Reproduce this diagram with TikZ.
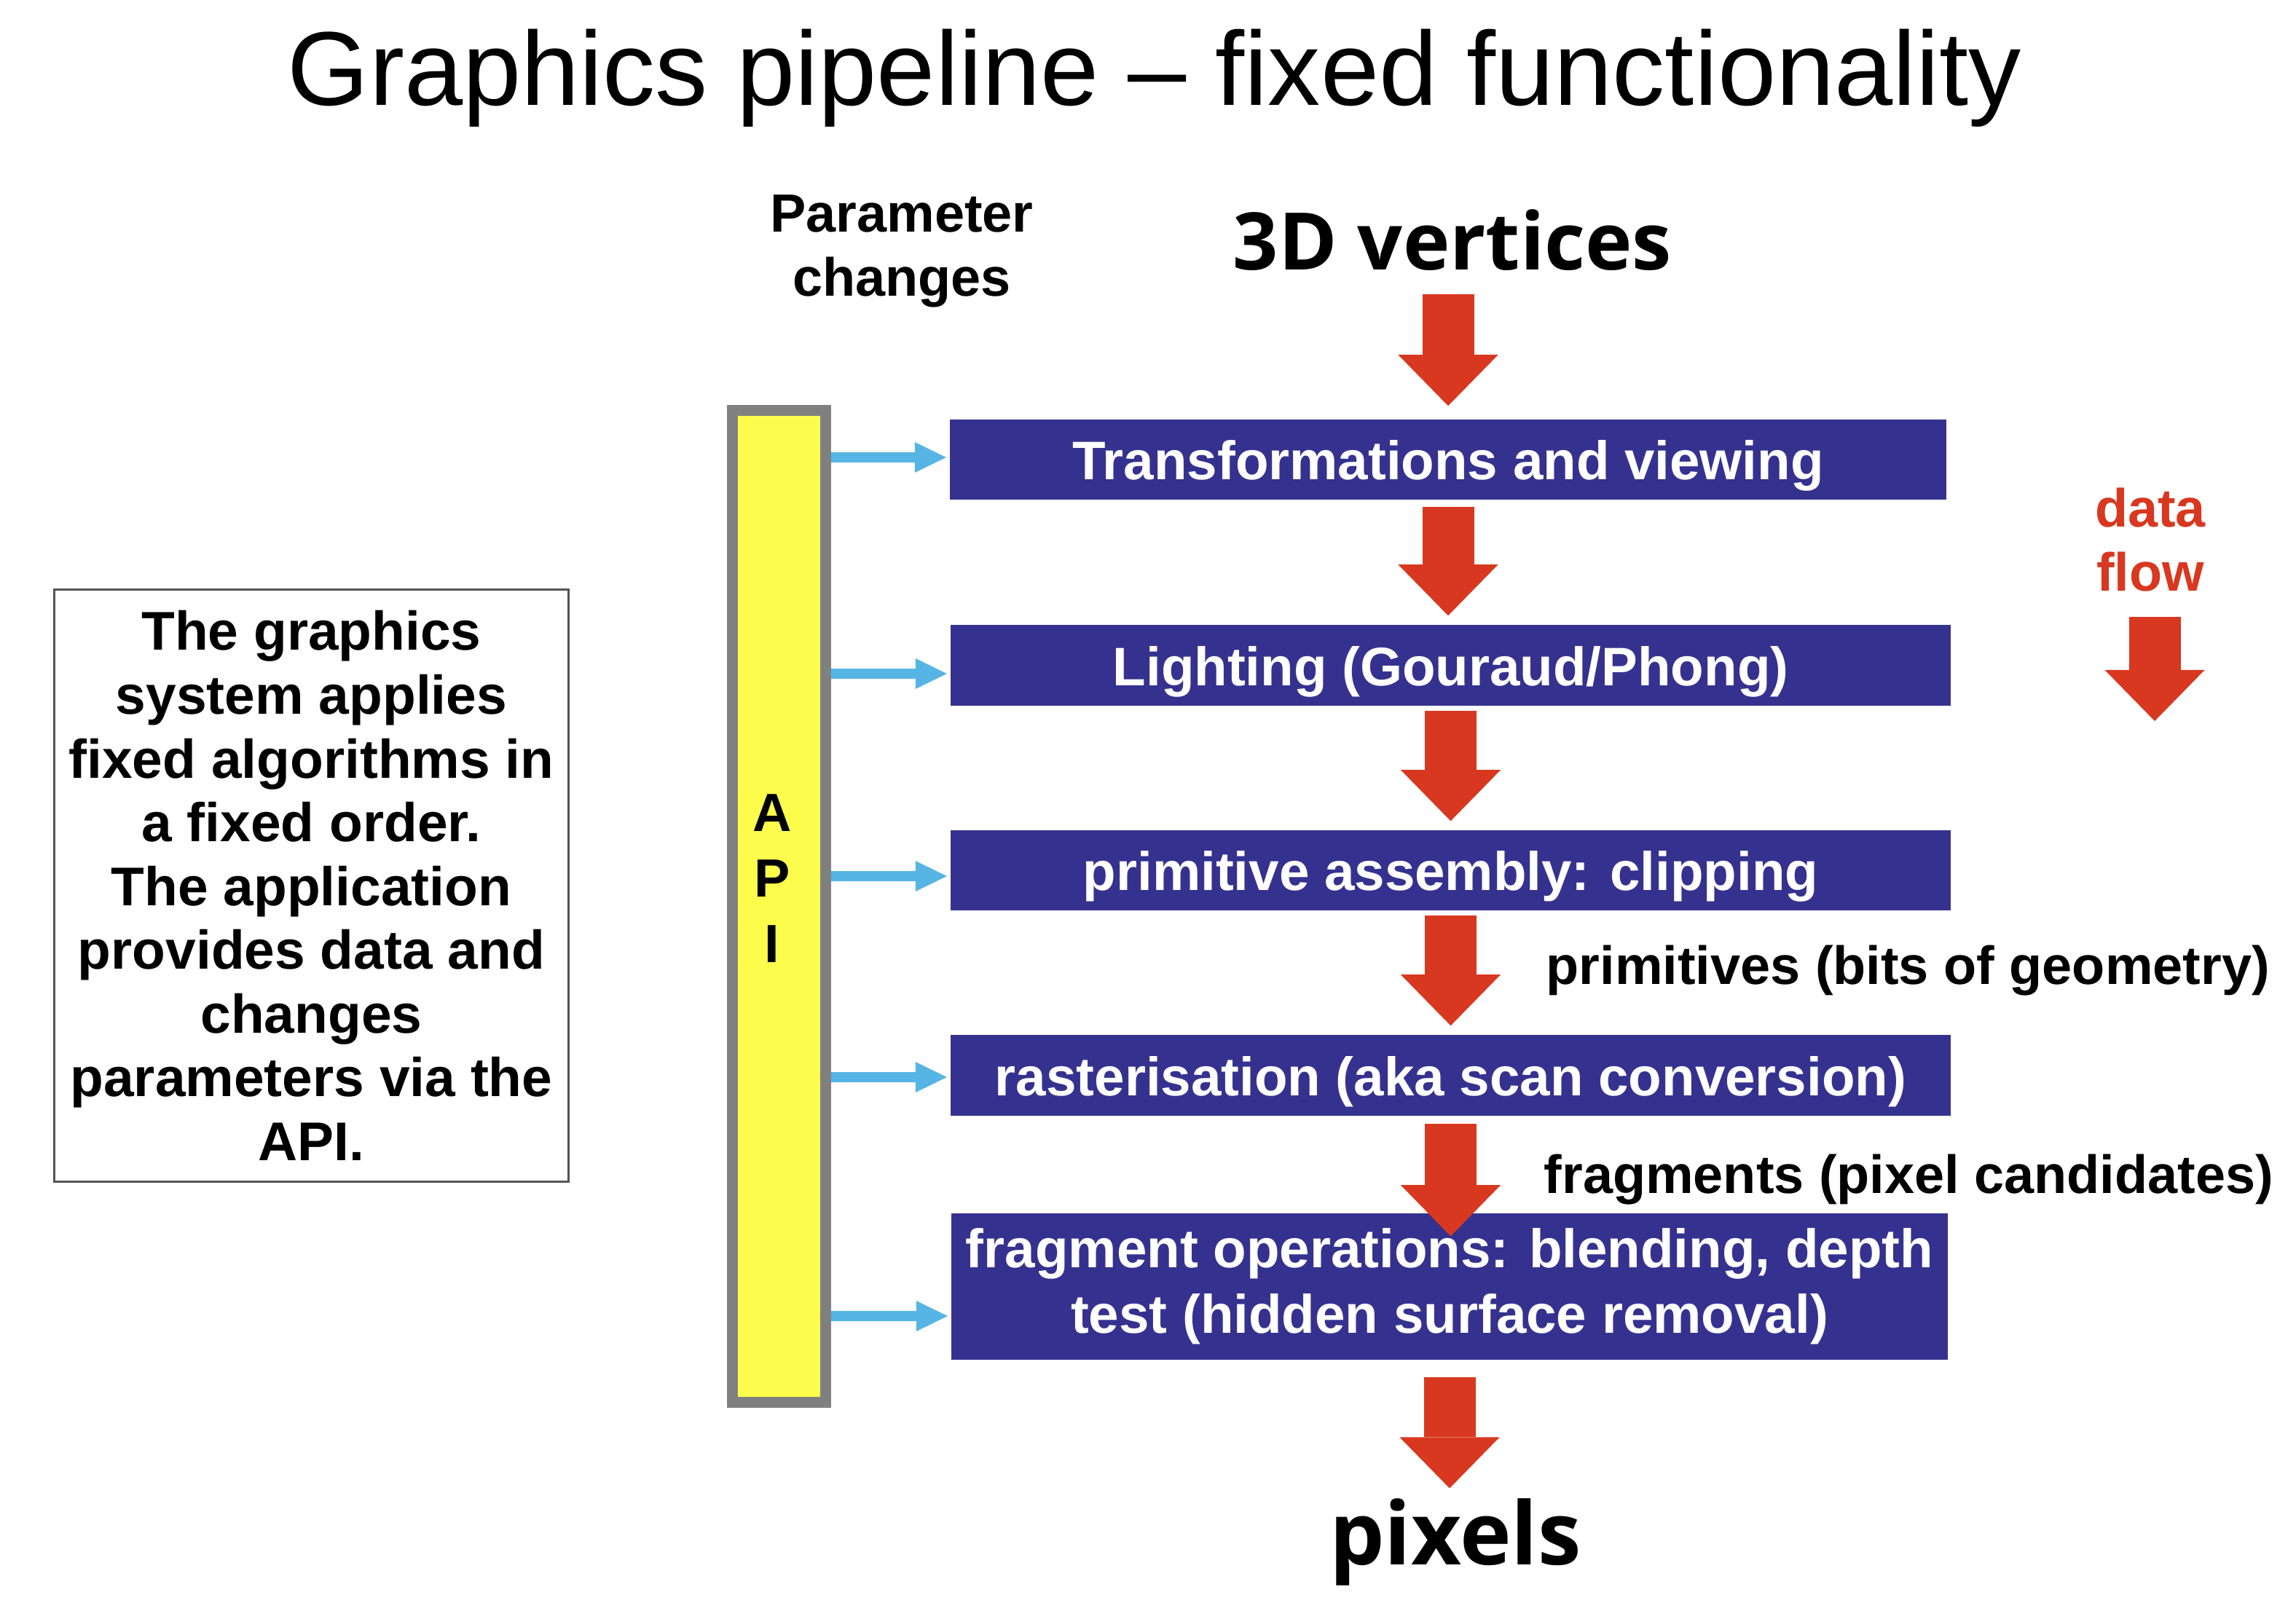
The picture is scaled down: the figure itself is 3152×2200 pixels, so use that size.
\documentclass[tikz,border=0pt]{standalone}
\usepackage{fontspec}
\setmainfont{Liberation Sans}
\newfontfamily\osans{Open Sans}
\usetikzlibrary{arrows.meta}
\definecolor{navy}{HTML}{35328F}
\definecolor{redc}{HTML}{D8381F}
\definecolor{bluec}{HTML}{56B5E4}
\definecolor{yel}{HTML}{FCFC4C}
\definecolor{grayb}{HTML}{808080}
\definecolor{boxline}{HTML}{555555}
\begin{document}
\begin{tikzpicture}[x=0.01cm,y=-0.01cm,
  stage/.style={fill=navy, text=white, inner sep=0pt, minimum height=1.10cm,
    font=\fontsize{21.2pt}{25.6pt}\selectfont\bfseries, align=center,
    execute at begin node={\rule{0pt}{0.95em}}},
  lbl/.style={inner sep=0pt, font=\fontsize{21pt}{25pt}\selectfont\bfseries, align=center},
  redarr/.style={draw=redc, line width=0.71cm,
    -{Triangle[length=0.70cm,width=1.37cm,line width=0pt]}},
  bluearr/.style={draw=bluec, line width=0.14cm,
    -{Triangle[length=0.43cm,width=0.42cm,line width=0pt]}, shorten >=0.04cm}
  ]
\useasboundingbox (0,0) rectangle (3152,2200);
\fill[white] (0,0) rectangle (3152,2200);

% title
\node[inner sep=0pt, anchor=base, font=\fontsize{41pt}{48pt}\selectfont] (title) at (1585,145) {Graphics pipeline – fixed functionality};

% headings
\node[lbl] (param) at (1238,345) {Parameter\\changes};
\node[inner sep=0pt, anchor=base, font=\fontsize{31pt}{37pt}\selectfont\osans\bfseries] (v3d) at (1994,370) {3D vertices};
\node[inner sep=0pt, anchor=base, font=\fontsize{34pt}{40pt}\selectfont\osans\bfseries] (pix) at (1998,2148) {pixels};

% left explanation box
\node[draw=boxline, line width=0.03cm, minimum width=7.05cm, minimum height=8.12cm,
  inner sep=0pt, align=center, font=\fontsize{21.3pt}{24.9pt}\selectfont\bfseries] (expl) at (427.5,1216)
  {The graphics\\system applies\\fixed algorithms in\\a fixed order.\\The application\\provides data and\\changes\\parameters via the\\API.};

% API bar
\node[draw=grayb, fill=yel, line width=0.15cm, minimum width=1.28cm, minimum height=13.62cm, inner sep=0pt] (api) at (1069.5,1244.5) {};
\node[lbl, font=\fontsize{21pt}{25.6pt}\selectfont\bfseries] (apitext) at (1060,1206) {A\\P\\I};

% stages
\node[stage, minimum width=13.68cm] (b1) at (1988,631) {Transformations and viewing};
\node[stage, minimum width=13.73cm, minimum height=1.11cm] (b2) at (1991.5,913.5) {Lighting (Gouraud/Phong)};
\node[stage, minimum width=13.73cm] (b3) at (1991.5,1195) {primitive assembly: clipping};
\node[stage, minimum width=13.73cm, minimum height=1.11cm] (b4) at (1991.5,1476.5) {rasterisation (aka scan conversion)};
\node[stage, minimum width=13.68cm, minimum height=2.01cm] (b5) at (1990,1766.5) {fragment operations: blending, depth\\test (hidden surface removal)};

% side labels
\node[lbl, anchor=west] (prim) at (2122,1333) {primitives (bits of geometry)};
\node[lbl, anchor=west] (frag) at (2119,1620) {fragments (pixel candidates)};
\node[lbl, text=redc] (df) at (2952,741) {data\\flow};
\coordinate (dfend) at (2958,990);

% red data-flow arrows
\draw[redarr, shorten <=0.32cm, shorten >=0.18cm] (b1.north |- v3d.south) -- (b1.north);
\draw[redarr, shorten <=0.09cm, shorten >=0.12cm] (b1.south) -- (b1.south |- b2.north);
\draw[redarr, shorten <=0.06cm, shorten >=0.12cm] (b2.south) -- (b2.south |- b3.north);
\draw[redarr, shorten <=0.06cm, shorten >=0.12cm] (b3.south) -- (b3.south |- b4.north);
\draw[redarr, shorten <=0.10cm, shorten >=-0.32cm] (b4.south) -- (b4.south |- b5.north);
\draw[redarr, shorten <=0.23cm, shorten >=0.13cm] (b5.south) -- (b5.south |- pix.north);
\draw[redarr, shorten <=0.34cm] (dfend |- df.south) -- (dfend);

% blue API arrows
\draw[bluearr] (api.east |- 0,628) -- (b1.west |- 0,628);
\draw[bluearr] (api.east |- 0,925) -- (b2.west |- 0,925);
\draw[bluearr] (api.east |- 0,1203) -- (b3.west |- 0,1203);
\draw[bluearr] (api.east |- 0,1479) -- (b4.west |- 0,1479);
\draw[bluearr] (api.east |- 0,1807) -- (b5.west |- 0,1807);
\end{tikzpicture}
\end{document}
